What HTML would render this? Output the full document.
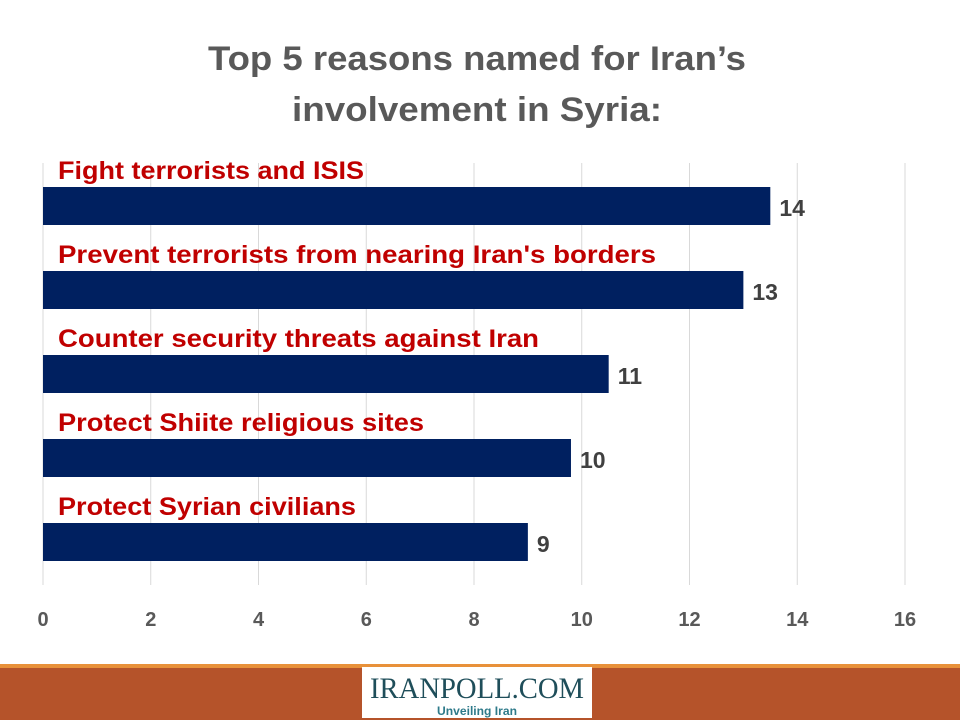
<!DOCTYPE html>
<html><head><meta charset="utf-8"><style>
html,body{margin:0;padding:0;background:#fff;}
svg{display:block;font-family:"Liberation Sans",sans-serif;}
</style></head><body>
<svg width="960" height="720" viewBox="0 0 960 720">
<g font-weight="bold" fill="#595959" font-size="34" text-anchor="middle">
<text x="477" y="70" textLength="538" lengthAdjust="spacingAndGlyphs">Top 5 reasons named for Iran’s</text>
<text x="477" y="121" textLength="370" lengthAdjust="spacingAndGlyphs">involvement in Syria:</text>
</g>
<g id="grid"></g>
<g id="bars"></g>
<g id="ticks"></g>
<rect x="0" y="664" width="960" height="4" fill="#e8913a"/>
<rect x="0" y="668" width="960" height="52" fill="#b5532a"/>
<g>
<rect x="362" y="667" width="230" height="51" fill="#fff"/>
<text x="477" y="698" text-anchor="middle" font-family="Liberation Serif,serif" font-size="30" fill="#1f4e5a" textLength="214" lengthAdjust="spacingAndGlyphs">IRANPOLL.COM</text>
<text x="477" y="715" text-anchor="middle" font-size="12" font-weight="bold" fill="#2e7a8a" textLength="80" lengthAdjust="spacingAndGlyphs">Unveiling Iran</text>
</g>
</svg>
<script>
const categories=["Fight terrorists and ISIS","Prevent terrorists from nearing Iran's borders","Counter security threats against Iran","Protect Shiite religious sites","Protect Syrian civilians"];
const values=[13.5,13,10.5,9.8,9];
const valueLabels=["14","13","11","10","9"];
const ticks=[0,2,4,6,8,10,12,14,16];
const labelWidths=[306,598,481,366,298];
const NS="http://www.w3.org/2000/svg";
const x0=43,x1=905,xmax=16;
const xs=v=>x0+(x1-x0)*v/xmax;
const ys=i=>187+84*i;
function mk(t,a,p){const e=document.createElementNS(NS,t);for(const k in a)e.setAttribute(k,a[k]);p.appendChild(e);return e;}
const grid=document.getElementById('grid'),bars=document.getElementById('bars'),tk=document.getElementById('ticks');
ticks.forEach(t=>{
 const l=mk('line',{x1:xs(t),x2:xs(t),y1:163,y2:585,stroke:'#d9d9d9','stroke-width':1},grid);
 
 
 const tx=mk('text',{x:xs(t),y:626,'text-anchor':'middle','font-size':20,'font-weight':'bold',fill:'#595959'},tk);
 tx.textContent=t;
 
 
});
categories.forEach((c,i)=>{
 const y=ys(i);
 const r=mk('rect',{x:x0,y:y,width:xs(values[i])-x0,height:38,fill:'#002060'},bars);
 
 
 const lb=mk('text',{x:58,y:y-8,'font-size':25,'font-weight':'bold',fill:'#c00000',textLength:labelWidths[i],lengthAdjust:'spacingAndGlyphs'},bars);
 lb.textContent=c;
 
 
 const vl=mk('text',{x:xs(values[i])+9,y:y+29,'font-size':23,'font-weight':'bold',fill:'#404040'},bars);
 vl.textContent=valueLabels[i];
 
 
});
</script>
</body></html>
